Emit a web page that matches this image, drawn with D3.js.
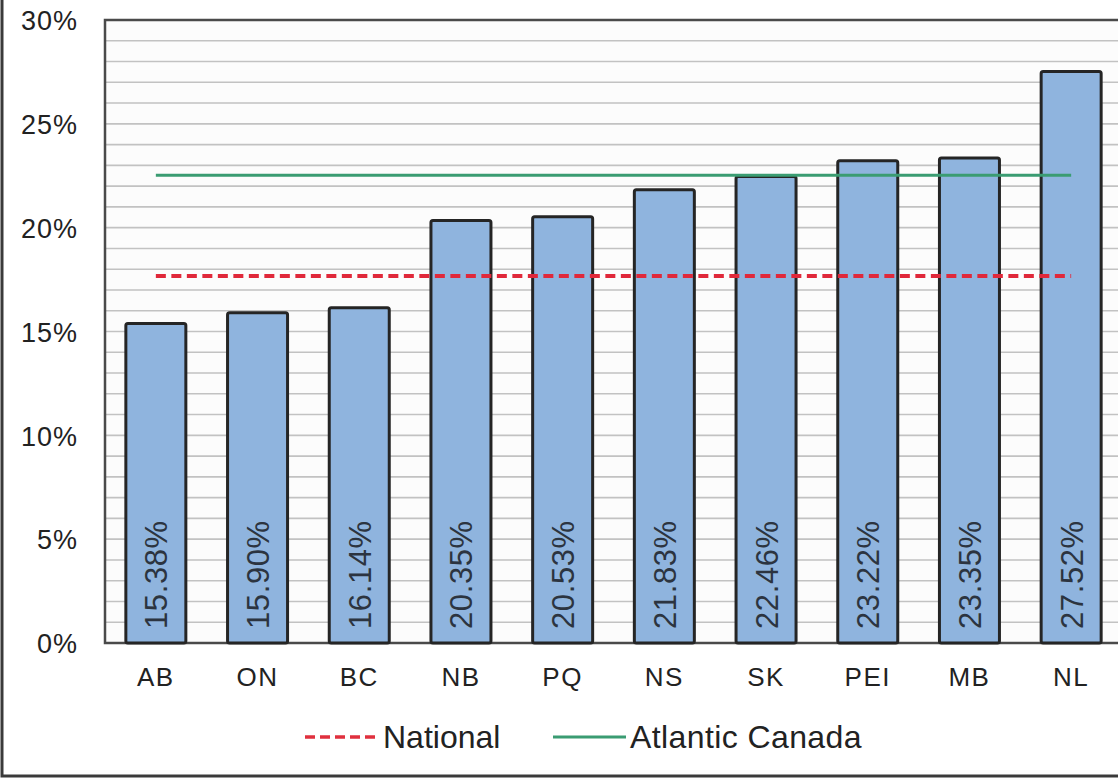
<!DOCTYPE html>
<html><head><meta charset="utf-8">
<script src="https://cdn.jsdelivr.net/npm/d3@7"></script>
<style>
html,body{margin:0;padding:0;background:#fff;}
svg{display:block;font-family:"Liberation Sans",Arial,sans-serif;}
</style></head>
<body>
<svg id="chart" width="1118" height="778"></svg>
<script>
const categories = ["AB","ON","BC","NB","PQ","NS","SK","PEI","MB","NL"];
const values = [15.38,15.90,16.14,20.35,20.53,21.83,22.46,23.22,23.35,27.52];
const nationalValue = 17.67;
const atlanticValue = 22.53;
const yTicks = [0,5,10,15,20,25,30];
const legendNames = ["National","Atlantic Canada"];

const svg = d3.select("#chart");
const plot = {left:105, right:1122, top:20, bottom:643};

const x = d3.scaleBand().domain(categories).range([plot.left, plot.right])
  .paddingInner(0.41).paddingOuter(0.205);
const y = d3.scaleLinear().domain([0,30]).range([plot.bottom, plot.top]);

// outer border
svg.append("rect").attr("x",2).attr("y",-10).attr("width",1140).attr("height",786)
  .attr("fill","none").attr("stroke","#3a3a3a").attr("stroke-width",3);

// plot background
svg.append("rect").attr("x",plot.left).attr("y",plot.top)
  .attr("width",plot.right-plot.left).attr("height",plot.bottom-plot.top)
  .attr("fill","#fcfcfc");

// minor gridlines every 1%
svg.append("g").selectAll("line").data(d3.range(1,30)).join("line")
  .attr("x1",plot.left).attr("x2",plot.right)
  .attr("y1",d=>y(d)).attr("y2",d=>y(d))
  .attr("stroke","#c2c2c2").attr("stroke-width",1.6);

// plot border
svg.append("rect").attr("x",plot.left).attr("y",plot.top)
  .attr("width",plot.right-plot.left).attr("height",plot.bottom-plot.top)
  .attr("fill","none").attr("stroke","#4a4a4a").attr("stroke-width",2.5);

// y axis labels
const yAxis = d3.axisLeft(y).tickValues(yTicks).tickFormat(d=>d+"%").tickSize(0).tickPadding(0);
const yg = svg.append("g").attr("transform",`translate(${plot.left-27},0)`).call(yAxis);
yg.select(".domain").remove();
yg.selectAll("text").attr("font-size",27).attr("fill","#222")
  .attr("font-family","Liberation Sans, Arial, sans-serif")
  .style("letter-spacing","1px").attr("dy","0.36em");

// bars
svg.append("g").selectAll("rect").data(values).join("rect")
  .attr("x",(d,i)=>x(categories[i])).attr("width",x.bandwidth())
  .attr("y",d=>y(d)).attr("height",d=>y(0)-y(d))
  .attr("rx",2)
  .attr("fill","#8fb4de").attr("stroke","#252525").attr("stroke-width",3);

// bar labels
svg.append("g").selectAll("text").data(values).join("text")
  .attr("transform",(d,i)=>`translate(${x(categories[i])+x.bandwidth()/2+1},${y(0)-14}) rotate(-90)`)
  .attr("dominant-baseline","central")
  .attr("font-size",31).attr("fill","#2c3440")
  .style("letter-spacing","0.6px")
  .text(d=>d.toFixed(2)+"%");

// x axis labels
const xAxis = d3.axisBottom(x).tickSize(0).tickPadding(0);
const xg = svg.append("g").attr("transform",`translate(0,${plot.bottom+34})`).call(xAxis);
xg.select(".domain").remove();
xg.selectAll("text").attr("font-size",26).attr("fill","#222")
  .attr("font-family","Liberation Sans, Arial, sans-serif")
  .style("letter-spacing","1.5px").attr("dy","0.36em");

// lines
const lineGen = v => d3.line().x(d=>x(d)+x.bandwidth()/2).y(()=>y(v))(categories);
svg.append("path").attr("d",lineGen(atlanticValue))
  .attr("fill","none").attr("stroke","#3a9c72").attr("stroke-width",3);
svg.append("path").attr("d",lineGen(nationalValue))
  .attr("fill","none").attr("stroke","#e0283a").attr("stroke-width",4)
  .attr("stroke-dasharray","10,5.5");

// legend
const leg = svg.append("g");
leg.append("line").attr("x1",305).attr("x2",377).attr("y1",737).attr("y2",737)
  .attr("stroke","#e0303e").attr("stroke-width",3.5).attr("stroke-dasharray","10,5");
leg.append("text").attr("x",383).attr("y",737).attr("dominant-baseline","central")
  .attr("font-size",32).attr("fill","#222").text(legendNames[0]);
leg.append("line").attr("x1",553).attr("x2",626).attr("y1",737).attr("y2",737)
  .attr("stroke","#3a9c72").attr("stroke-width",3);
leg.append("text").attr("x",630).attr("y",737).attr("dominant-baseline","central")
  .attr("font-size",32).attr("fill","#222").style("letter-spacing","0.4px").text(legendNames[1]);
</script>
</body></html>
